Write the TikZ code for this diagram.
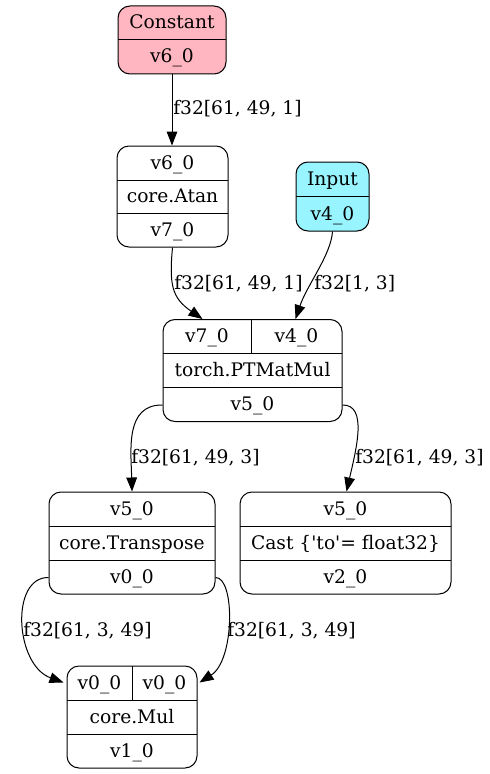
\documentclass[tikz,border=0pt]{standalone}
\usepackage{fontspec}
\setmainfont{DejaVu Serif}
\usetikzlibrary{arrows.meta,calc}
\definecolor{constfill}{HTML}{FFB6C1}
\definecolor{inputfill}{HTML}{98F5FF}
\begin{document}
\begin{tikzpicture}[x=0.75pt,y=-0.75pt,
  font=\fontsize{14}{16}\selectfont,
  rec/.style={draw, line width=0.75pt, rounded corners=9pt, inner sep=0pt},
  txt/.style={anchor=base, inner sep=0pt},
  sep/.style={line width=0.75pt},
  edge/.style={line width=0.75pt, -{Triangle[length=10.5pt,width=8pt]}},
  lbl/.style={anchor=base west, inner sep=0pt}]
\useasboundingbox (0,0) rectangle (489,774);

% Constant v6_0
\node[rec, fill=constfill, minimum width=81pt, minimum height=51pt] (const) at (172,40) {};
\draw[sep] (118,40) -- (226,40);
\node[txt] (constT) at (172,29) {Constant};
\node[txt] (constV) at (172,63) {v6\_0};

% core.Atan
\node[rec, minimum width=83.25pt, minimum height=75.75pt] (atan) at (172.5,196.5) {};
\draw[sep] (117,180) -- (228,180);
\draw[sep] (117,213.5) -- (228,213.5);
\node[txt] (atanI) at (172.5,169) {v6\_0};
\node[txt] (atanOp) at (172.5,202.5) {core.Atan};
\node[txt] (atanO) at (172.5,236) {v7\_0};

% Input v4_0
\node[rec, fill=inputfill, minimum width=54.75pt, minimum height=51.75pt] (inp) at (332.5,196.5) {};
\draw[sep] (296,196.5) -- (369,196.5);
\node[txt] (inpT) at (332.5,185) {Input};
\node[txt] (inpV) at (332.5,220) {v4\_0};

% torch.PTMatMul
\node[rec, minimum width=134.25pt, minimum height=76.5pt] (mm) at (252.5,370.5) {};
\draw[sep] (163,353.5) -- (342,353.5);
\draw[sep] (163,387.5) -- (342,387.5);
\draw[sep] (251,319.5) -- (251,353.5);
\node[txt] (mmA) at (207,342.5) {v7\_0};
\node[txt] (mmB) at (296.5,342.5) {v4\_0};
\node[txt] (mmOp) at (252.5,376.5) {torch.PTMatMul};
\node[txt] (mmO) at (252.5,410.5) {v5\_0};

% core.Transpose
\node[rec, minimum width=124.5pt, minimum height=76.5pt] (tr) at (132,543) {};
\draw[sep] (49,526) -- (215,526);
\draw[sep] (49,560) -- (215,560);
\node[txt] (trI) at (132,515) {v5\_0};
\node[txt] (trOp) at (132,549) {core.Transpose};
\node[txt] (trO) at (132,583) {v0\_0};

% Cast
\node[rec, minimum width=158.25pt, minimum height=76.5pt] (cast) at (345.5,543) {};
\draw[sep] (240,526) -- (451,526);
\draw[sep] (240,560) -- (451,560);
\node[txt] (castI) at (345.5,515) {v5\_0};
\node[txt] (castOp) at (345.5,549) {Cast \{\textquotesingle to\textquotesingle= float32\}};
\node[txt] (castO) at (345.5,583) {v2\_0};

% core.Mul
\node[rec, minimum width=97.5pt, minimum height=76.5pt] (mul) at (132,717) {};
\draw[sep] (67,700) -- (197,700);
\draw[sep] (67,734) -- (197,734);
\draw[sep] (132,666) -- (132,700);
\node[txt] (mulA) at (99.5,689) {v0\_0};
\node[txt] (mulB) at (164.5,689) {v0\_0};
\node[txt] (mulOp) at (132,723) {core.Mul};
\node[txt] (mulO) at (132,757) {v1\_0};

% connectors
\draw[edge] (const.south) -- (const.south |- atan.north);
\draw[edge] (atan.south) .. controls (169,285) and (172,298) .. ($(mm.north west)+(40,0)$);
\draw[edge] (inp.south) .. controls (331,255) and (307,285) .. ($(mm.north west)+(133,0)$);
\draw[edge] ($(mm.south west)+(0,-17)$) .. controls (125,404.5) and (131,450) .. (tr.north);
\draw[edge] ($(mm.south east)+(0,-17)$) .. controls (368,404.5) and (356,450) .. ($(cast.north)+(1,0)$);
\draw[edge] ($(tr.south west)+(0,-17)$) .. controls (10,577) and (15,665) .. ($(mul.north west)+(-3,17)$);
\draw[edge] ($(tr.south east)+(0,-17)$) .. controls (235,577) and (235,660) .. ($(mul.north east)+(2,17)$);

% connector labels
\node[lbl] (l1) at (173,114) {f32[61, 49, 1]};
\node[lbl] (l2) at (174,289) {f32[61, 49, 1]};
\node[lbl] (l3) at (314,289) {f32[1, 3]};
\node[lbl] (l4) at (131,463) {f32[61, 49, 3]};
\node[lbl] (l5) at (355,463) {f32[61, 49, 3]};
\node[lbl] (l6) at (23,636) {f32[61, 3, 49]};
\node[lbl] (l7) at (227,636) {f32[61, 3, 49]};
\end{tikzpicture}
\end{document}
